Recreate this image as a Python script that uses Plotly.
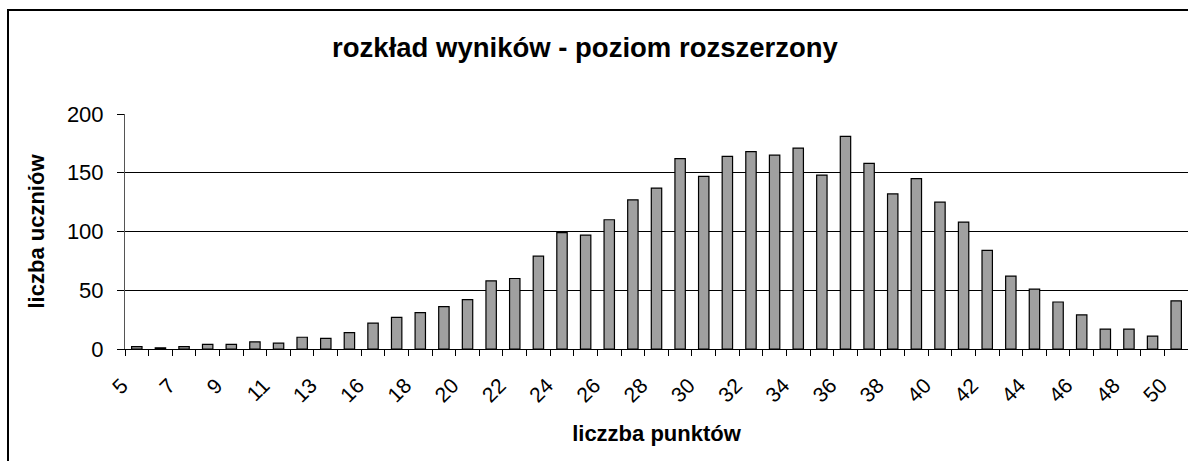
import plotly.graph_objects as go

categories = ["5", "6", "7", "8", "9", "10", "11", "12", "13", "14",
              "16", "17", "18", "19", "20", "21", "22", "23", "24", "25",
              "26", "27", "28", "29", "30", "31", "32", "33", "34", "35",
              "36", "37", "38", "39", "40", "41", "42", "43", "44", "45",
              "46", "47", "48", "49", "50"]
counts = [2, 1, 2, 4, 4, 6, 5, 10, 9, 14,
          22, 27, 31, 36, 42, 58, 60, 79, 99, 97,
          110, 127, 137, 162, 147, 164, 168, 165, 171, 148,
          181, 158, 132, 145, 125, 108, 84, 62, 51, 40,
          29, 17, 17, 11, 41]
y_ticks = [0, 50, 100, 150, 200]

title_text = "rozkład wyników - poziom rozszerzony"
x_title = "liczzba punktów"
y_title = "liczba uczniów"

idx = list(range(len(categories)))
label_idx = idx[::2]
label_txt = [categories[i] for i in label_idx]

FONT = "Liberation Sans, Arial, sans-serif"

fig = go.Figure()
fig.add_trace(go.Bar(
    x=idx, y=counts, width=0.44,
    marker=dict(color="#A0A0A0", line=dict(color="black", width=1.2)),
    hoverinfo="x+y", showlegend=False,
))

W, H = 1188, 461
L, R, T, B = 125, 0, 114, 112
pw = W - L - R
ph = H - T - B

fig.update_layout(
    width=W, height=H,
    margin=dict(l=L, r=R, t=T, b=B),
    paper_bgcolor="white", plot_bgcolor="white",
    font=dict(family=FONT, color="black", size=21),
    title=dict(text="<b>" + title_text + "</b>", x=585 / W, xref="container",
               xanchor="center", y=1 - 47 / H, yref="container", yanchor="middle",
               font=dict(family=FONT, size=27.5, color="black")),
    bargap=0.5,
)
fig.update_xaxes(
    range=[-0.5, len(categories) - 0.5],
    tickmode="array", tickvals=label_idx, ticktext=label_txt,
    tickangle=-45, ticks="outside", ticklen=8, tickcolor="rgba(0,0,0,0)",
    ticklabelshift=-15, ticklabelstandoff=7,
    tickfont=dict(size=21),
    minor=dict(ticks="outside", tickmode="linear", tick0=-0.5, dtick=1,
               ticklen=6, tickcolor="black", tickwidth=1, showgrid=False),
    showline=True, linecolor="black", linewidth=1,
    showgrid=False, zeroline=False,
    title=dict(text="<b>" + x_title + "</b>", font=dict(size=22), standoff=20),
)
fig.update_yaxes(
    range=[0, 200], tickmode="array", tickvals=y_ticks,
    ticks="outside", ticklen=7, tickcolor="black", tickwidth=1,
    ticklabelstandoff=9,
    tickfont=dict(size=22),
    showline=True, linecolor="#555555", linewidth=1,
    showgrid=True, gridcolor="black", gridwidth=1, zeroline=False,
    title=dict(text="<b>" + y_title + "</b>", font=dict(size=22), standoff=16),
)

# outer chart border (extends past the image on the right and bottom)
fig.add_shape(type="rect", xref="paper", yref="paper",
              x0=(8 - L) / pw, x1=(W + 20 - L) / pw,
              y0=(H - B - (H + 20)) / ph, y1=(H - B - 10) / ph,
              line=dict(color="black", width=2), fillcolor="rgba(0,0,0,0)",
              layer="below")

fig.write_html("out.html", include_plotlyjs=True,
               config={"displayModeBar": False},
               post_script="document.body.style.margin='0';document.body.style.overflow='hidden';")
